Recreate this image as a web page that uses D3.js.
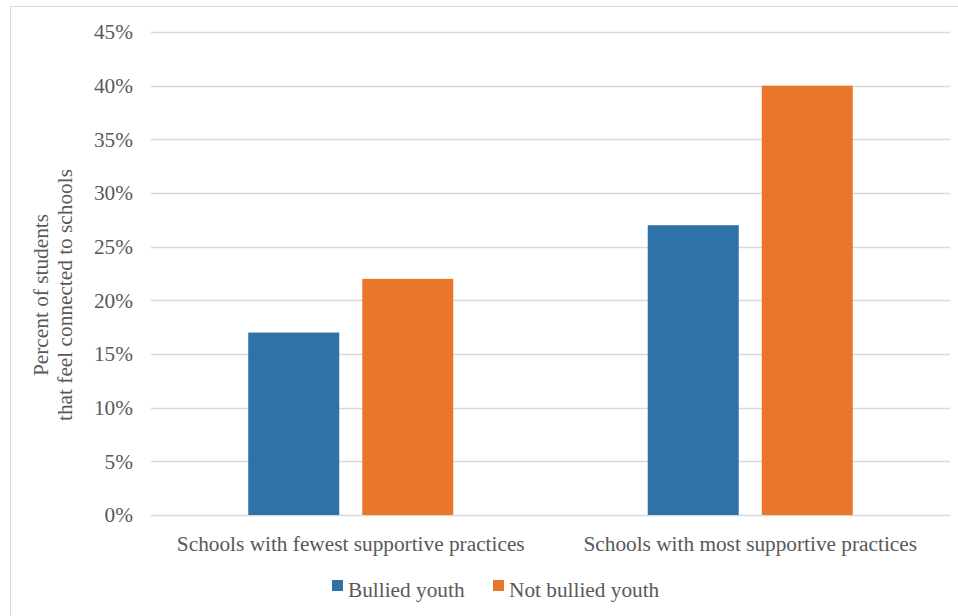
<!DOCTYPE html>
<html>
<head>
<meta charset="utf-8">
<script src="https://cdn.jsdelivr.net/npm/d3@7"></script>
<style>
  body { margin: 0; background: #fff; }
</style>
</head>
<body>
<div id="chart"></div>
<script>
var categories = ["Schools with fewest supportive practices", "Schools with most supportive practices"];
var seriesNames = ["Bullied youth", "Not bullied youth"];
var bullied = [17, 27];
var notBullied = [22, 40];
var yTicks = [0, 5, 10, 15, 20, 25, 30, 35, 40, 45];
var colors = ["#2e72a7", "#e9762a"];

var width = 958, height = 616;
var margin = { top: 32, right: 8, bottom: 101, left: 151 };
var plotW = width - margin.left - margin.right;
var plotH = height - margin.top - margin.bottom;
var font = "Liberation Serif";
var fontSize = "21.3px";
var textColor = "#595959";

var svg = d3.select("#chart").append("svg")
  .attr("width", width)
  .attr("height", height);

// chart border
svg.append("rect")
  .attr("x", 10.5).attr("y", 6.5)
  .attr("width", 960).attr("height", 620)
  .attr("fill", "none")
  .attr("stroke", "#d9d9d9");

var g = svg.append("g")
  .attr("transform", "translate(" + margin.left + "," + margin.top + ")");

var y = d3.scaleLinear().domain([0, 45]).range([plotH, 0]);

var x0 = d3.scaleBand().domain(categories).range([0, plotW]);
var x1 = d3.scaleBand().domain(seriesNames)
  .range([0, x0.bandwidth()])
  .paddingInner(0.2018)
  .paddingOuter(0.853);

// gridlines
g.selectAll(".grid")
  .data(yTicks)
  .enter()
  .append("line")
  .attr("x1", 0).attr("x2", plotW)
  .attr("y1", (d) => Math.round(y(d)) + 0.5)
  .attr("y2", (d) => Math.round(y(d)) + 0.5)
  .attr("stroke", "#d9d9d9")
  .attr("stroke-width", 1.3);

// y axis labels
let yAxis = d3.axisLeft(y).tickValues(yTicks).tickSize(0).tickPadding(18)
  .tickFormat((d) => d + "%");
let ya = g.append("g").call(yAxis);
ya.select(".domain").remove();
ya.selectAll("text")
  .style("font-family", font)
  .style("font-size", fontSize)
  .attr("fill", textColor);

var rows = categories.map(function (c, i) {
  return [
    { cat: c, name: seriesNames[0], value: bullied[i] },
    { cat: c, name: seriesNames[1], value: notBullied[i] }
  ];
});

g.selectAll(".grp")
  .data(rows)
  .enter()
  .append("g")
  .attr("transform", (d) => "translate(" + x0(d[0].cat) + ",0)")
  .selectAll("rect")
  .data((d) => d)
  .enter()
  .append("rect")
  .attr("x", (d) => x1(d.name))
  .attr("width", x1.bandwidth())
  .attr("y", (d) => y(d.value))
  .attr("height", (d) => y(0) - y(d.value))
  .attr("fill", (d, i) => colors[i]);

// category labels
g.selectAll(".cat")
  .data(categories)
  .enter()
  .append("text")
  .attr("x", (d) => x0(d) + x0.bandwidth() / 2)
  .attr("y", plotH + 36)
  .attr("text-anchor", "middle")
  .style("font-family", font)
  .style("font-size", fontSize)
  .attr("fill", textColor)
  .text((d) => d);

// y title
var title = svg.append("text")
  .attr("transform", "translate(48,295) rotate(-90)")
  .attr("text-anchor", "middle")
  .style("font-family", font)
  .style("font-size", fontSize)
  .attr("fill", textColor);
title.append("tspan").attr("x", 0).attr("dy", 0).text("Percent of students");
title.append("tspan").attr("x", 0).attr("dy", "1.12em").text("that feel connected to schools");

// legend
var legend = svg.append("g").attr("transform", "translate(332,580)");
var lx = [0, 161];
seriesNames.forEach(function (n, i) {
  legend.append("rect")
    .attr("x", lx[i]).attr("y", 0)
    .attr("width", 11).attr("height", 11)
    .attr("fill", colors[i]);
  legend.append("text")
    .attr("x", lx[i] + 16).attr("y", 17)
    .style("font-family", font)
    .style("font-size", fontSize)
    .attr("fill", textColor)
    .text(n);
});
</script>
</body>
</html>
